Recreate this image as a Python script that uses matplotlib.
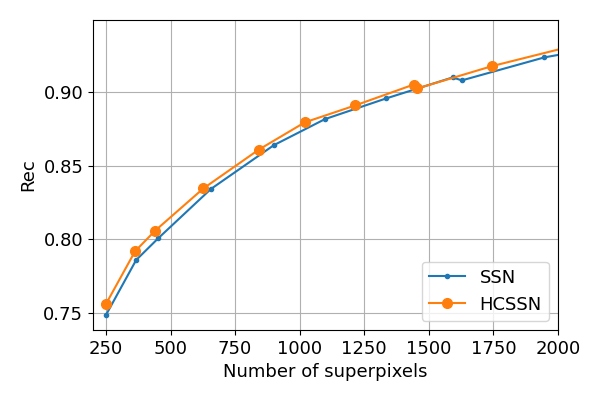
import numpy as np
import matplotlib
matplotlib.use('Agg')
from matplotlib import pyplot as plt

ssn_x = [250, 367, 452, 656, 900, 1098, 1334, 1592, 1628, 1947, 2150]
ssn_rec = [0.7486, 0.786, 0.8007, 0.8342, 0.864, 0.8817, 0.8957, 0.910, 0.908, 0.9236, 0.930]

hcssn_x = [250, 363, 441, 627, 842, 1020, 1215, 1442, 1455, 1745, 2150]
hcssn_rec = [0.7561, 0.792, 0.806, 0.8346, 0.861, 0.8795, 0.891, 0.9052, 0.9025, 0.9177, 0.9355]

fig = plt.figure(figsize=(6, 4), dpi=100)
ax = fig.add_axes([0.155, 0.175, 0.775, 0.775])
ax.plot(ssn_x, ssn_rec, '.-', label='SSN')
ax.plot(hcssn_x, hcssn_rec, 'o-', markersize=7, label='HCSSN')
ax.set_xlim(200, 2000)
ax.set_ylim(0.7385, 0.949)
ax.set_xticks([250, 500, 750, 1000, 1250, 1500, 1750, 2000])
ax.set_yticks([0.75, 0.80, 0.85, 0.90])
ax.grid(True)
ax.tick_params(labelsize=13)
ax.set_xlabel('Number of superpixels', fontsize=13)
ax.set_ylabel('Rec', fontsize=13)
ax.legend(loc='lower right', fontsize=13)
fig.savefig('out.png')
